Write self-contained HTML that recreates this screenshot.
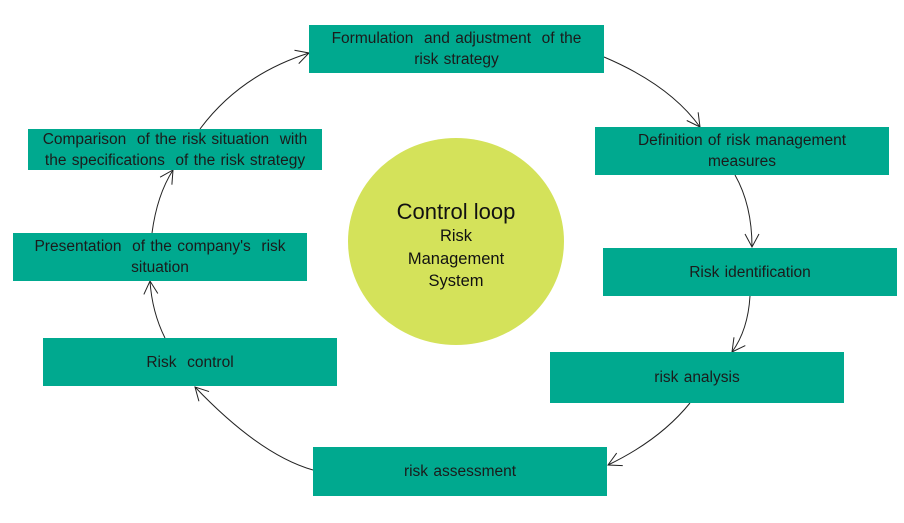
<!DOCTYPE html>
<html><head><meta charset="utf-8"><style>
body{margin:0;width:904px;height:523px;background:#fff;position:relative;overflow:hidden;font-family:"Liberation Sans",sans-serif;}
.b{position:absolute;background:#00a98f;color:#1b1b1b;font-size:15.5px;line-height:21px;text-align:center;display:flex;align-items:center;justify-content:center;word-spacing:1px;}
.c{position:absolute;left:348px;top:138px;width:216px;height:207px;border-radius:50%;background:#d4e25a;text-align:center;color:#111;}
svg{position:absolute;left:0;top:0}
</style></head><body>
<svg width="904" height="523"><defs><marker id="a" markerWidth="16" markerHeight="16" refX="14" refY="8" orient="auto" markerUnits="userSpaceOnUse"><path d="M1,1 L14,8 L1,15" fill="none" stroke="#222" stroke-width="1"/></marker></defs>
<g fill="none" stroke="#222" stroke-width="1" marker-end="url(#a)">
<path d="M604,57 Q670,85 700,127"/>
<path d="M735,175 Q752,205 752,247"/>
<path d="M750,296 Q748,330 732,352"/>
<path d="M690,403 Q660,440 608,465"/>
<path d="M313,470 Q260,455 195,387"/>
<path d="M165,338 Q152,312 150,281"/>
<path d="M152,233 Q157,195 173,170"/>
<path d="M200,129 Q240,75 309,53"/>
</g></svg>
<div class="b" style="left:309px;top:25px;width:295px;height:48px">Formulation &nbsp;and adjustment &nbsp;of the<br>risk strategy</div>
<div class="b" style="left:595px;top:127px;width:294px;height:48px">Definition of risk management<br>measures</div>
<div class="b" style="left:603px;top:248px;width:294px;height:48px">Risk identification</div>
<div class="b" style="left:550px;top:352px;width:294px;height:51px">risk analysis</div>
<div class="b" style="left:313px;top:447px;width:294px;height:49px">risk assessment</div>
<div class="b" style="left:43px;top:338px;width:294px;height:48px">Risk &nbsp;control</div>
<div class="b" style="left:13px;top:233px;width:294px;height:48px">Presentation &nbsp;of the company's &nbsp;risk<br>situation</div>
<div class="b" style="left:28px;top:129px;width:294px;height:41px">Comparison &nbsp;of the risk situation &nbsp;with<br>the specifications &nbsp;of the risk strategy</div>
<div class="c"><div style="margin-top:61px;font-size:22px;line-height:26px">Control loop</div><div style="font-size:16.5px;line-height:22.5px">Risk<br>Management<br>System</div></div>
</body></html>
